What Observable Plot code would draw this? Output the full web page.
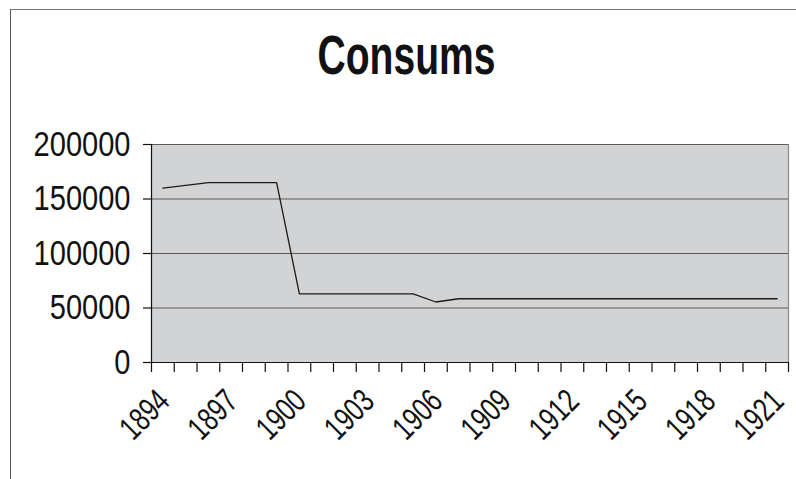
<!DOCTYPE html>
<html>
<head>
<meta charset="utf-8">
<script src="https://cdn.jsdelivr.net/npm/d3@7"></script>
<script src="https://cdn.jsdelivr.net/npm/@observablehq/plot@0.6"></script>
<style>
  html, body { margin: 0; padding: 0; background: #fff; }
  #wrap { position: relative; width: 796px; height: 479px; overflow: hidden; }
  #border { position: absolute; left: 10px; top: 9px; width: 900px; height: 600px;
            border-left: 1px solid #555; border-top: 1px solid #777; box-sizing: border-box; }
  #title { position: absolute; left: 0; top: 22px; width: 813px; text-align: center;
           font-family: "Liberation Sans", Arial, sans-serif;
           font-weight: bold; font-size: 55px; line-height: 66px; color: #111;
           transform: scaleX(0.71); transform-origin: 406.5px 0; }
  #chart { position: absolute; left: 0; top: 0; }
</style>
</head>
<body>
<div id="wrap">
  <div id="border"></div>
  <div id="title">Consums</div>
  <div id="chart"></div>
</div>
<script>
const years = [1894,1895,1896,1897,1898,1899,1900,1901,1902,1903,1904,1905,1906,1907,
               1908,1909,1910,1911,1912,1913,1914,1915,1916,1917,1918,1919,1920,1921];
const consums = [160000,162500,165000,165000,165000,165000,63000,63000,63000,63000,63000,63000,55500,58500,
                 58500,58500,58500,58500,58500,58500,58500,58500,58500,58500,58500,58500,58500,58500];
const yTicks = [0, 50000, 100000, 150000, 200000];
const xTickLabels = [1894,1897,1900,1903,1906,1909,1912,1915,1918,1921];

const data = years.map((y, i) => ({year: y, value: consums[i]}));
const xMin = years[0] - 0.5, xMax = years[years.length - 1] + 0.5;
const boundaries = years.map(y => y - 0.5).concat([xMax]);
const font = '"Liberation Sans", Arial, sans-serif';

const chart = Plot.plot({
  width: 796,
  height: 479,
  marginLeft: 151,
  marginRight: 8,
  marginTop: 144,
  marginBottom: 117,
  style: {background: "transparent", fontFamily: font, color: "#111"},
  x: {type: "linear", domain: [xMin, xMax], axis: null},
  y: {domain: [0, 200000], axis: null},
  marks: [
    Plot.frame({fill: "#d2d3d5", stroke: null}),
    Plot.ruleY(yTicks.filter(d => d > 0), {stroke: "#5a5a5a", strokeWidth: 1.2}),
    Plot.ruleX([xMax], {stroke: "#888", strokeWidth: 1.2}),
    Plot.ruleX([xMin], {stroke: "#111", strokeWidth: 1.2}),
    Plot.ruleY([0], {stroke: "#111", strokeWidth: 1.2}),
    Plot.axisX({ticks: boundaries, tickFormat: () => "", tickSize: 10, label: null,
      stroke: "#111", strokeWidth: 1.2}),
    Plot.axisY({ticks: yTicks, tickFormat: () => "", tickSize: 8, label: null,
      stroke: "#111", strokeWidth: 1.2}),
    Plot.text(yTicks, {x: xMin, y: d => d, text: d => String(d), textAnchor: "end",
      dx: -21, fontSize: 35, fill: "#111", ariaLabel: () => "ylab"}),
    Plot.text(xTickLabels, {x: d => d, y: 0, text: d => String(d), textAnchor: "end",
      lineAnchor: "top", rotate: -45, dx: -8, dy: 24, fontSize: 33, fill: "#111", ariaLabel: () => "xlab"}),
    Plot.line(data, {x: "year", y: "value", stroke: "#1a1a1a", strokeWidth: 1.3})
  ]
});
document.getElementById("chart").appendChild(chart);

// condense labels horizontally (narrow font look)
chart.querySelectorAll('text[aria-label="ylab"]').forEach(t => {
  const tr = t.getAttribute("transform") || "";
  t.setAttribute("transform", tr + " scale(0.83,1)");
});
chart.querySelectorAll('text[aria-label="xlab"]').forEach(t => {
  const tr = t.getAttribute("transform") || "";
  t.setAttribute("transform", tr + " scale(0.74,1)");
});
</script>
</body>
</html>
